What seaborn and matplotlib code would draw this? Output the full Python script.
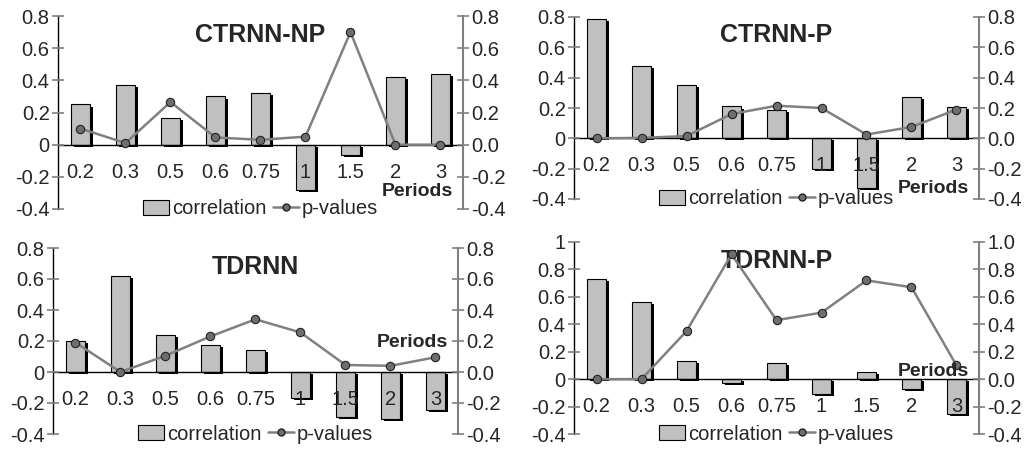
import matplotlib
matplotlib.use("Agg")
import matplotlib.pyplot as plt
import matplotlib.patheffects as pe
from matplotlib.patches import Patch
from matplotlib.lines import Line2D
from matplotlib.ticker import FormatStrFormatter, FixedLocator
import seaborn as sns

periods = ["0.2", "0.3", "0.5", "0.6", "0.75", "1", "1.5", "2", "3"]
titles = ["CTRNN-NP", "CTRNN-P", "TDRNN", "TDRNN-P"]

corr_ctrnn_np = [0.25, 0.37, 0.165, 0.30, 0.32, -0.28, -0.065, 0.42, 0.44]
pval_ctrnn_np = [0.10, 0.01, 0.265, 0.045, 0.03, 0.05, 0.70, 0.0, 0.0]

corr_ctrnn_p = [0.79, 0.48, 0.35, 0.21, 0.185, -0.20, -0.33, 0.27, 0.205]
pval_ctrnn_p = [0.0, 0.003, 0.015, 0.16, 0.215, 0.20, 0.025, 0.075, 0.19]

corr_tdrnn = [0.20, 0.62, 0.24, 0.175, 0.14, -0.17, -0.29, -0.30, -0.245]
pval_tdrnn = [0.19, 0.0, 0.105, 0.23, 0.34, 0.255, 0.045, 0.04, 0.095]

corr_tdrnn_p = [0.73, 0.565, 0.135, -0.025, 0.115, -0.11, 0.05, -0.07, -0.255]
pval_tdrnn_p = [0.0, 0.0, 0.35, 0.91, 0.43, 0.485, 0.72, 0.67, 0.10]

corrs = [corr_ctrnn_np, corr_ctrnn_p, corr_tdrnn, corr_tdrnn_p]
pvals = [pval_ctrnn_np, pval_ctrnn_p, pval_tdrnn, pval_tdrnn_p]

sns.set_style("white")
plt.rcParams["font.family"] = ["Liberation Sans", "DejaVu Sans"]

fig = plt.figure(figsize=(10.32, 4.5), dpi=100)

# axes rectangles in pixels: left, top, right, bottom
rects = [(58, 16, 463, 209), (574, 17, 979, 199), (53, 248, 458, 434), (574, 242, 979, 434)]
ymax = [0.8, 0.8, 0.8, 1.0]
periods_pos = [0.09, 0.06, 0.49, 0.323]

bar_color = "#c0c0c0"
line_color = "#808080"

for i in range(4):
    l, t, r, b = rects[i]
    ax = fig.add_axes([l / 1032, (450 - b) / 450, (r - l) / 1032, (b - t) / 450])
    ax2 = ax.twinx()

    sns.barplot(x=periods, y=corrs[i], ax=ax, color=bar_color, width=0.42,
                edgecolor="black", linewidth=0.8, saturation=1)
    for bar in ax.patches:
        bar.set_path_effects([pe.SimplePatchShadow(offset=(2.2, -1.5), shadow_rgbFace="black", alpha=1),
                              pe.Normal()])

    sns.pointplot(x=periods, y=pvals[i], ax=ax2, color=line_color, errorbar=None,
                  markers="o", markersize=6, linewidth=1.8,
                  markerfacecolor="#6e6e6e", markeredgecolor="#222222", markeredgewidth=0.8)

    ax.set_axisbelow(False)
    ax.set_ylim(-0.4, ymax[i])
    ax2.set_ylim(-0.4, ymax[i])
    ax.set_xlim(-0.5, 8.5)
    yt = [-0.4, -0.2, 0, 0.2, 0.4, 0.6, 0.8] + ([1.0] if ymax[i] == 1.0 else [])
    ax.set_yticks(yt)
    ax.set_yticklabels(["%g" % v for v in yt])
    ax2.set_yticks(yt)
    ax2.yaxis.set_major_formatter(FormatStrFormatter("%.1f"))
    ax.set_xlabel("")
    ax.set_ylabel("")
    ax2.set_xlabel("")
    ax2.set_ylabel("")

    ax.set_xticks(range(len(periods)))
    ax.set_xticklabels(periods)
    ax.xaxis.set_minor_locator(FixedLocator([k + 0.5 for k in range(-1, len(periods))]))

    for s in ["top", "right"]:
        ax.spines[s].set_visible(False)
    ax.spines["bottom"].set_position(("data", 0))
    ax.spines["bottom"].set_color("black")
    ax.spines["bottom"].set_linewidth(1)
    ax.spines["left"].set_color("black")
    ax.spines["left"].set_linewidth(1)
    for s in ["top", "left", "bottom"]:
        ax2.spines[s].set_visible(False)
    ax2.spines["right"].set_color(line_color)
    ax2.spines["right"].set_linewidth(1.5)

    ax.tick_params(axis="x", which="major", length=0, pad=13, labelsize=14.5)
    ax.tick_params(axis="x", which="minor", length=8, direction="inout", color="black", width=1)
    ax.tick_params(axis="y", length=8, direction="inout", color=line_color, width=1.2, labelsize=14.5, pad=2)
    ax2.tick_params(axis="y", length=8, direction="inout", color=line_color, width=1.2, labelsize=14.5, pad=2)

    ax.text(0.5, 0.9, titles[i], transform=ax.transAxes, ha="center", va="center",
            fontsize=18, fontweight="bold", zorder=5)
    ax2.text(0.975, periods_pos[i], "Periods", transform=ax2.transAxes, ha="right", va="center",
             fontsize=14, fontweight="bold", zorder=5)

    handles = [Patch(facecolor=bar_color, edgecolor="black", linewidth=0.8),
               Line2D([], [], color=line_color, lw=1.8, marker="o", markersize=5,
                      markerfacecolor="#6e6e6e", markeredgecolor="#222222")]
    ax2.legend(handles, ["correlation", "p-values"], loc="center", bbox_to_anchor=(0.5, 0.0),
               ncol=2, frameon=False, fontsize=14.5, handlelength=1.3, handleheight=0.8,
               handletextpad=0.15, columnspacing=0.3, borderpad=0)

fig.savefig("out.png", dpi=100)
